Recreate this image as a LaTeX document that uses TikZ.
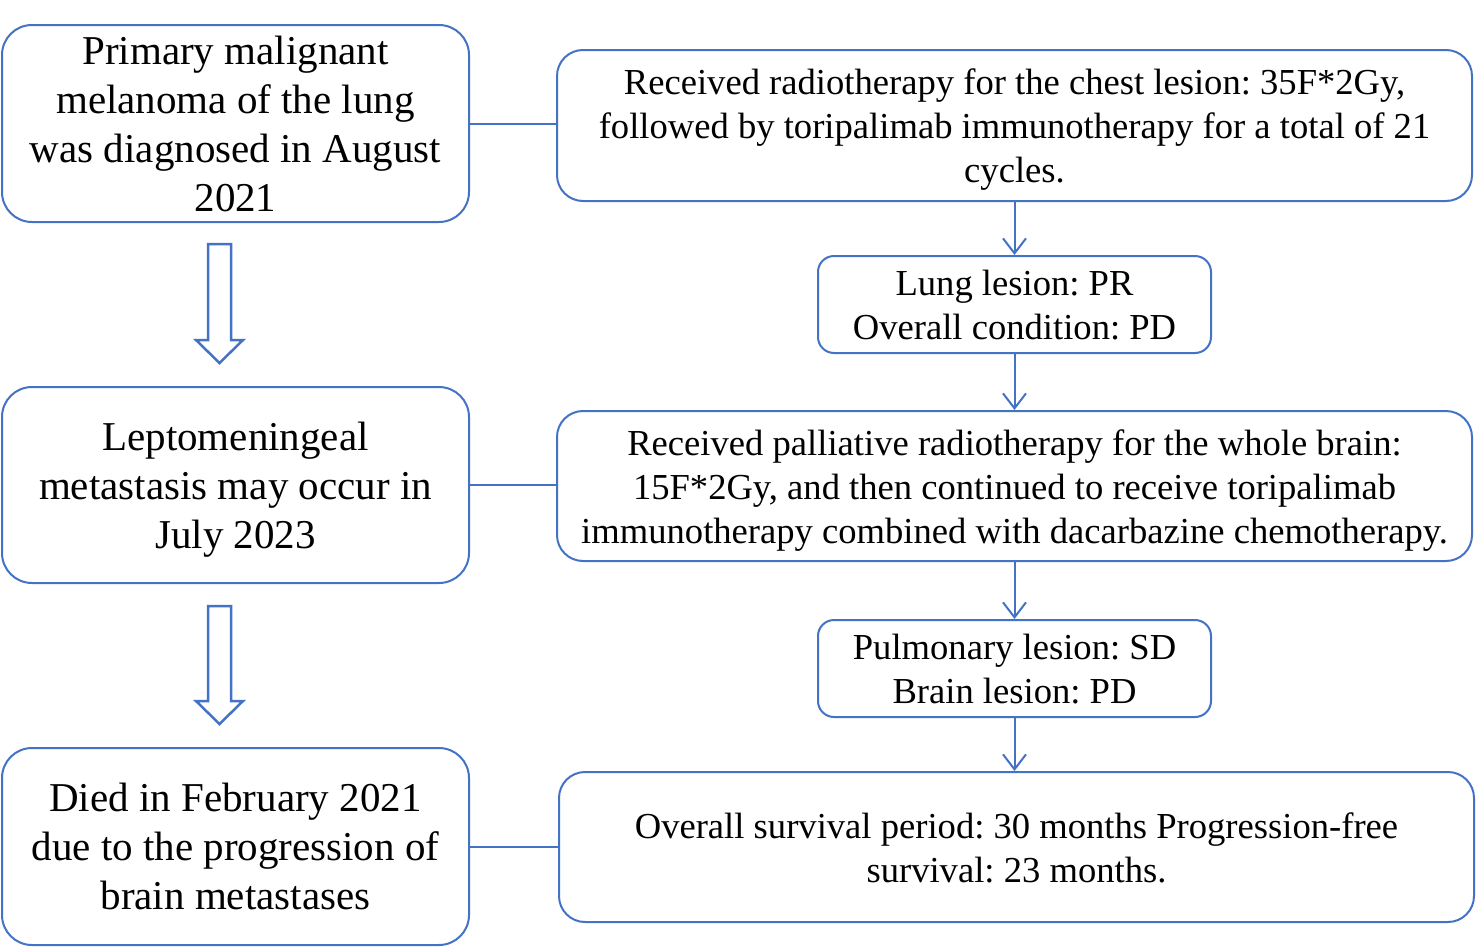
\documentclass[tikz,border=0pt]{standalone}
\usepackage{fontspec}
\setmainfont{Liberation Serif}
\usetikzlibrary{arrows.meta}
\definecolor{bl}{HTML}{4472C4}
\newcommand\boxtxt[1]{\raisebox{-4.5pt}[\height][\depth]{\begin{tabular}{@{}c@{}}#1\end{tabular}}}
\tikzset{
  lbox/.style={draw=bl, line width=2pt, rounded corners=30pt, inner sep=0pt,
    minimum width=467pt, minimum height=197pt, font=\fontsize{41}{49}\selectfont\frenchspacing},
  rbox/.style={draw=bl, line width=2pt, rounded corners=26pt, inner sep=0pt,
    minimum width=915pt, minimum height=151pt, font=\fontsize{36.6}{44}\selectfont\frenchspacing},
  sbox/.style={draw=bl, line width=2pt, rounded corners=16pt, inner sep=0pt,
    minimum width=393pt, minimum height=97pt, font=\fontsize{36.6}{44}\selectfont\frenchspacing},
  link/.style={draw=bl, line width=2pt},
  flow/.style={draw=bl, line width=2pt, -{Straight Barb[length=15pt,width=23pt]}},
  hollow/.style={draw=bl, line width=2.5pt, fill=white, line join=miter}
}
\begin{document}
\begin{tikzpicture}[x=1pt,y=-1pt]
\useasboundingbox[fill=white] (0,0) rectangle (1476,948);
\node[lbox] (L1) at (235.5,123.5) {\boxtxt{Primary malignant\\melanoma of the lung\\was diagnosed in August\\2021}};
\node[lbox, minimum height=196pt] (L2) at (235.5,485) {\boxtxt{Leptomeningeal\\metastasis may occur in\\July 2023}};
\node[lbox] (L3) at (235.5,846.5) {\boxtxt{Died in February 2021\\due to the progression of\\brain metastases}};
\node[rbox] (R1) at (1014.5,125.5) {\boxtxt{Received radiotherapy for the chest lesion: 35F*2Gy,\\followed by toripalimab immunotherapy for a total of 21\\cycles.}};
\node[sbox] (R2) at (1014.5,304.5) {\boxtxt{Lung lesion: PR\\Overall condition: PD}};
\node[rbox, minimum height=150pt] (R3) at (1014.5,486) {\boxtxt{Received palliative radiotherapy for the whole brain:\\15F*2Gy, and then continued to receive toripalimab\\immunotherapy combined with dacarbazine chemotherapy.}};
\node[sbox] (R4) at (1014.5,668.5) {\boxtxt{Pulmonary lesion: SD\\Brain lesion: PD}};
\node[rbox, minimum height=150pt] (R5) at (1016.5,847) {\boxtxt{Overall survival period: 30 months Progression-free\\survival: 23 months.}};
\draw[link] (L1.east) -- (L1.east -| R1.west);
\draw[link] (L2.east) -- (L2.east -| R3.west);
\draw[link] (L3.east) -- (L3.east -| R5.west);
\draw[flow] (R1.south -| R2.north) -- (R2.north);
\draw[flow] (R2.south) -- (R2.south |- R3.north);
\draw[flow] (R3.south -| R4.north) -- (R4.north);
\draw[flow] (R4.south) -- (R4.south |- R5.north);
\draw[hollow] (208,244) -- (231,244) -- (231,340) -- (243,340) -- (219.5,363) -- (196,340) -- (208,340) -- cycle;
\draw[hollow] (208,606) -- (231,606) -- (231,701) -- (243,701) -- (219.5,724) -- (196,701) -- (208,701) -- cycle;
\end{tikzpicture}
\end{document}
